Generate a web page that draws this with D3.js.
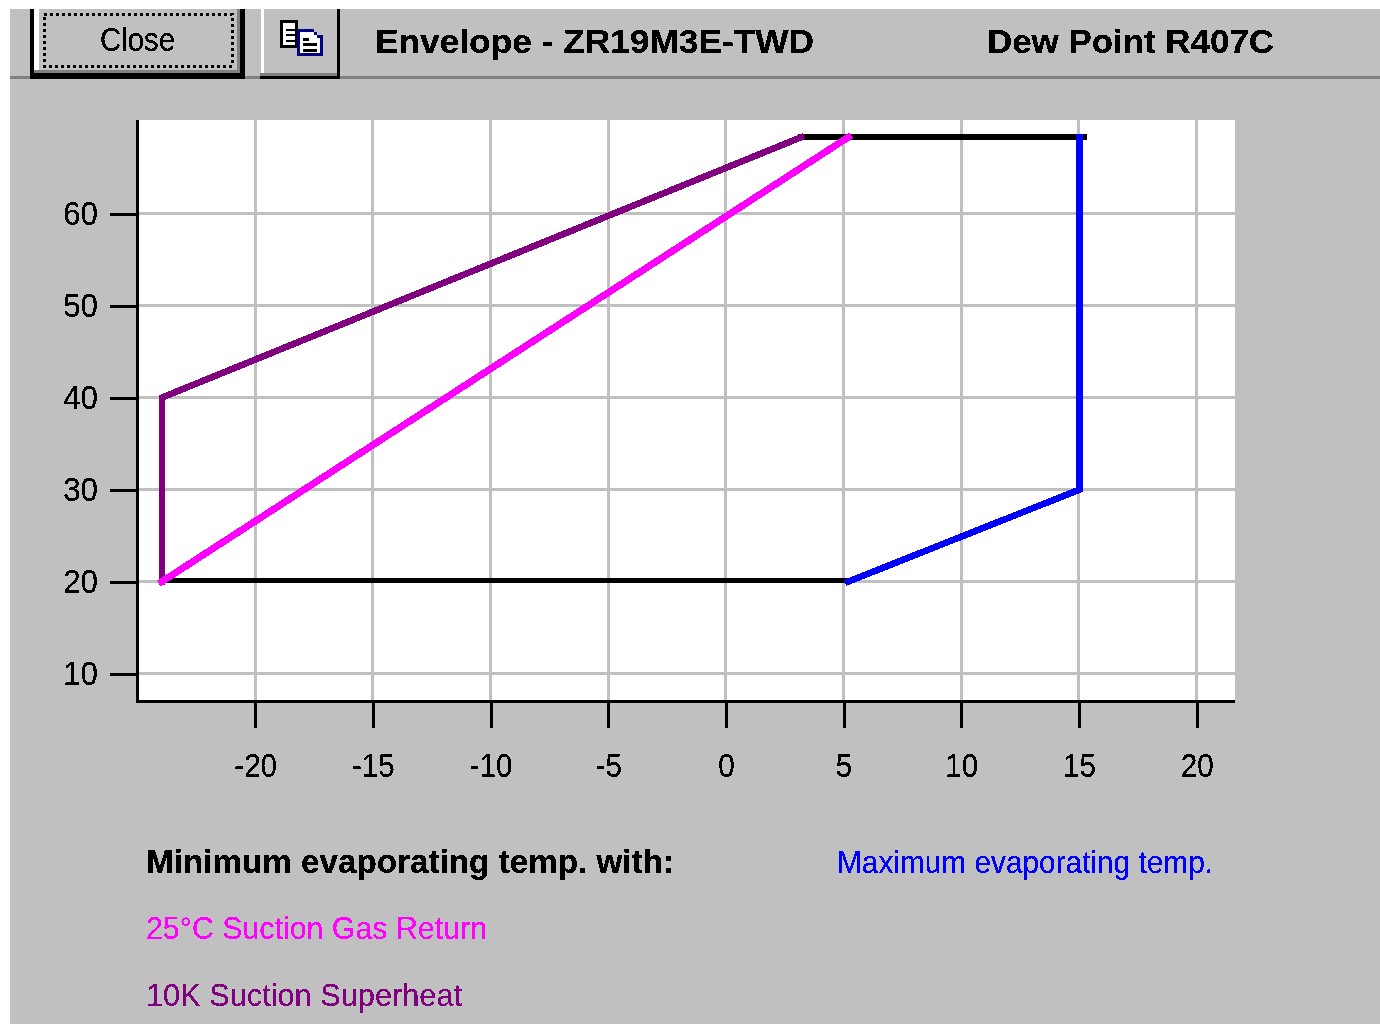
<!DOCTYPE html>
<meta charset="utf-8">
<title>Envelope - ZR19M3E-TWD</title>
<style>
html, body { margin: 0; padding: 0; background: #fff; }
svg { display: block; }
.grid line { stroke: #c0c0c0; stroke-width: 3px; shape-rendering: crispEdges; }
.axis path { display: none; }
.axis line { stroke: #000; stroke-width: 3px; shape-rendering: crispEdges; }
.axis text { font: 34px "Liberation Sans", sans-serif; fill: #000; stroke: none; filter: url(#bitmap); }
.envelope { fill: none; stroke-linecap: square; stroke-linejoin: miter; shape-rendering: crispEdges; }
.head { font: bold 34px "Liberation Sans", sans-serif; fill: #000; filter: url(#bitmap); }
.note { font: 32px "Liberation Sans", sans-serif; filter: url(#bitmap); }
</style>
<svg width="1380" height="1024">
  <defs>
    <!-- hard alpha edge, so the text looks like the old bitmap font -->
    <filter id="bitmap" x="-5%" y="-20%" width="110%" height="140%">
      <feComponentTransfer><feFuncA type="discrete" tableValues="0 1 1"/></feComponentTransfer>
    </filter>
  </defs>
</svg>
<script src="https://d3js.org/d3.v7.min.js"></script>
<script>

var xTicks = [-20, -15, -10, -5, 0, 5, 10, 15, 20];
var yTicks = [10, 20, 30, 40, 50, 60];

// evaporating temp, condensing temp
var minSuperheat = [[-23.96, 20], [-23.96, 40], [3.2, 68.3]];
var minReturnGas = [[-23.96, 20], [5.2, 68.3]];
var maxEvap = [[5.2, 20], [15.03, 30], [15.03, 68.3]];
var topLimit = [[3.2, 68.3], [15.2, 68.3]];
var bottomLimit = [[-23.96, 20.1], [5.2, 20.1]];

var svg = d3.select("svg");

var grey = "#c0c0c0", shadow = "#808080";

var plot = { left: 137, right: 1235, top: 120, bottom: 701 };

var x = d3.scaleLinear().domain([-25.02, 21.63]).range([plot.left, plot.right]);
var y = d3.scaleLinear().domain([7.02, 70.17]).range([plot.bottom, plot.top]);

function rect(x0, y0, w, h, fill) {
  return svg.append("rect").attr("x", x0).attr("y", y0).attr("width", w).attr("height", h)
      .attr("fill", fill).attr("shape-rendering", "crispEdges");
}

// text squeezed to the width it has in the old font
function label(cls, x0, y0, width, color, str) {
  return svg.append("text").attr("class", cls).attr("x", x0).attr("y", y0)
      .attr("fill", color).attr("textLength", width).attr("lengthAdjust", "spacingAndGlyphs")
      .text(str);
}

// window background and toolbar
rect(10, 9, 1370, 1015, grey);
rect(10, 76, 1370, 3, shadow);

// Close button
rect(30, 9, 215, 70, "#000");
rect(34, 9, 206, 64, shadow);
rect(34, 9, 203, 61, "#fff");
rect(39, 9, 198, 61, grey);
svg.append("rect")
    .attr("x", 44).attr("y", 14).attr("width", 188).attr("height", 52)
    .attr("fill", "none").attr("stroke", "#000").attr("stroke-width", 3)
    .attr("stroke-dasharray", "3 3").attr("shape-rendering", "crispEdges");
label("note", 100, 51, 75, "#000", "Close").style("font-size", "33px");

// copy button
rect(260, 9, 80, 70, "#000");
rect(260, 9, 77, 67, shadow);
rect(260, 9, 77, 64, grey);
rect(261, 9, 3, 64, "#fff");
rect(280, 20, 18, 28, "#000");
rect(283, 23, 12, 22, "#fff");
rect(286, 29, 9, 2, "#000");
rect(286, 34, 9, 2, "#000");
rect(286, 40, 9, 2, "#000");
rect(297, 29, 26, 27, "#000080");
rect(300, 32, 20, 21, "#fff");
rect(314, 29, 9, 6, grey);
rect(314, 32, 3, 3, "#000080");
rect(317, 35, 6, 3, "#000080");
rect(303, 38, 6, 3, "#000");
rect(303, 43, 14, 3, "#000");
rect(303, 49, 14, 3, "#000");

label("head", 375, 53, 439, "#000", "Envelope - ZR19M3E-TWD");
label("head", 987, 53, 287, "#000", "Dew Point R407C");

// plot area
rect(plot.left, plot.top, plot.right - plot.left, plot.bottom - plot.top, "#fff");

var grid = svg.append("g").attr("class", "grid");
grid.selectAll(".gx").data(xTicks).enter().append("line").attr("class", "gx")
    .attr("x1", function(d) { return x(d); }).attr("x2", function(d) { return x(d); })
    .attr("y1", plot.top).attr("y2", plot.bottom);
grid.selectAll(".gy").data(yTicks).enter().append("line").attr("class", "gy")
    .attr("y1", function(d) { return y(d); }).attr("y2", function(d) { return y(d); })
    .attr("x1", plot.left).attr("x2", plot.right);

// axes, the ticks sit outside the plot
var xAxis = svg.append("g").attr("class", "axis")
    .attr("transform", "translate(0," + plot.bottom + ")")
    .call(d3.axisBottom(x).tickValues(xTicks).tickSize(27).tickPadding(25).tickFormat(String));
var yAxis = svg.append("g").attr("class", "axis")
    .attr("transform", "translate(" + plot.left + ",0)")
    .call(d3.axisLeft(y).tickValues(yTicks).tickSize(27).tickPadding(12).tickFormat(String));

// tick labels are narrower than Liberation
xAxis.selectAll("text").each(function() {
  this.setAttribute("textLength", this.getComputedTextLength() * 0.87);
  this.setAttribute("lengthAdjust", "spacingAndGlyphs");
});
yAxis.selectAll("text").each(function() {
  this.setAttribute("textLength", this.getComputedTextLength() * 0.92);
  this.setAttribute("lengthAdjust", "spacingAndGlyphs");
});

rect(plot.left - 1, plot.top, 3, plot.bottom - plot.top + 2, "#000");
rect(plot.left - 1, plot.bottom - 1, plot.right - plot.left + 1, 3, "#000");

var line = d3.line()
    .x(function(d) { return x(d[0]); })
    .y(function(d) { return y(d[1]); });

function drawLine(data, color, width) {
  svg.append("path").attr("class", "envelope").datum(data)
      .attr("d", line).attr("stroke", color).attr("stroke-width", width);
}

drawLine(topLimit, "#000", 6);
drawLine(bottomLimit, "#000", 5);
drawLine(minSuperheat, "#800080", 6.6);
drawLine(maxEvap, "#0000ff", 6.6);
drawLine(minReturnGas, "#ff00ff", 7);

// legend notes
label("head", 146, 873, 528, "#000", "Minimum evaporating temp. with:");
label("note", 837, 873, 376, "#0000ff", "Maximum evaporating temp.");
label("note", 146, 939, 341, "#ff00ff", "25°C Suction Gas Return");
label("note", 146, 1006, 316, "#800080", "10K Suction Superheat");

</script>
